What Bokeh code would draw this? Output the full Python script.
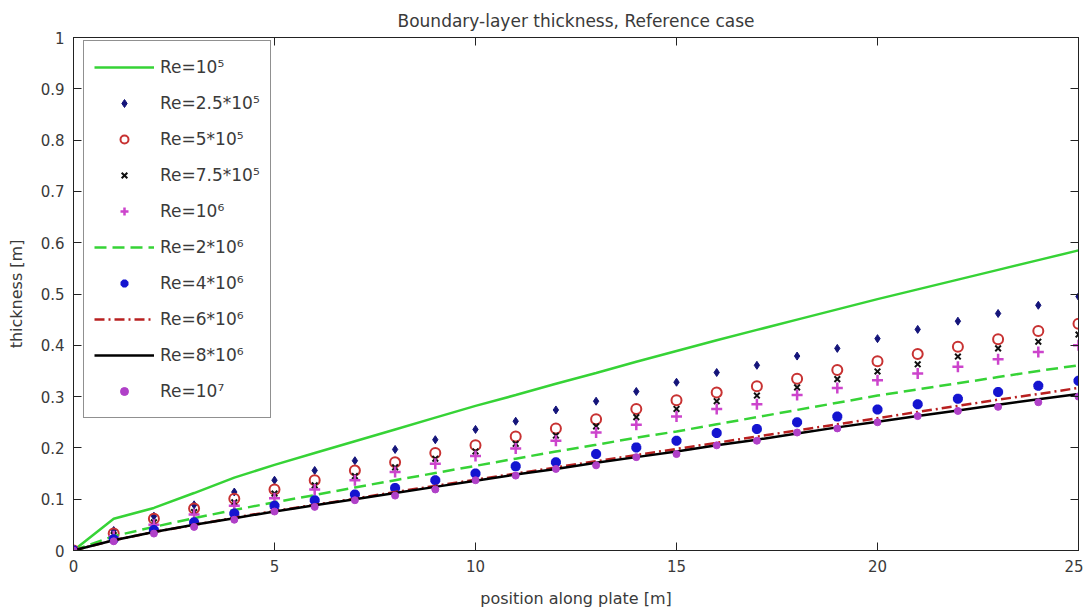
from bokeh.plotting import figure
from bokeh.models import (LinearAxis, FixedTicker, CustomJSTickFormatter, Legend,
                          LegendItem, Range1d)
from bokeh.embed import file_html
from bokeh.resources import INLINE

# ---------------- data ----------------
position = list(range(26))

re_1e5 = [0, 0.062, 0.083, 0.112, 0.142, 0.167, 0.190, 0.213, 0.236, 0.259, 0.282,
          0.303, 0.325, 0.346, 0.368, 0.389, 0.410, 0.430, 0.450, 0.470, 0.490,
          0.509, 0.528, 0.547, 0.566, 0.585]
re_2_5e5 = [0, 0.039, 0.067, 0.089, 0.114, 0.137, 0.156, 0.175, 0.197, 0.216, 0.236,
            0.252, 0.274, 0.291, 0.310, 0.328, 0.347, 0.361, 0.379, 0.394, 0.413,
            0.431, 0.447, 0.462, 0.478, 0.495]
re_5e5 = [0, 0.033, 0.062, 0.082, 0.101, 0.119, 0.137, 0.156, 0.172, 0.190, 0.205,
          0.222, 0.238, 0.256, 0.276, 0.293, 0.308, 0.320, 0.335, 0.352, 0.369,
          0.383, 0.397, 0.412, 0.428, 0.442]
re_7_5e5 = [0, 0.030, 0.055, 0.075, 0.094, 0.111, 0.127, 0.145, 0.162, 0.179, 0.193,
            0.208, 0.224, 0.242, 0.260, 0.276, 0.291, 0.302, 0.318, 0.334, 0.349,
            0.363, 0.378, 0.394, 0.407, 0.421]
re_1e6 = [0, 0.028, 0.050, 0.070, 0.087, 0.102, 0.119, 0.137, 0.153, 0.169, 0.184,
          0.199, 0.214, 0.230, 0.245, 0.261, 0.276, 0.285, 0.303, 0.317, 0.332,
          0.345, 0.358, 0.373, 0.387, 0.400]
re_2e6 = [0, 0.028, 0.046, 0.063, 0.079, 0.094, 0.108, 0.123, 0.137, 0.151, 0.165,
          0.179, 0.193, 0.206, 0.220, 0.232, 0.246, 0.260, 0.274, 0.288, 0.302,
          0.314, 0.326, 0.338, 0.350, 0.361]
re_4e6 = [0, 0.022, 0.040, 0.055, 0.072, 0.087, 0.098, 0.109, 0.122, 0.137, 0.150,
          0.164, 0.172, 0.188, 0.201, 0.214, 0.229, 0.237, 0.250, 0.261, 0.275,
          0.285, 0.296, 0.309, 0.321, 0.331]
re_6e6 = [0, 0.020, 0.036, 0.050, 0.064, 0.077, 0.089, 0.101, 0.114, 0.126, 0.138,
          0.150, 0.162, 0.174, 0.186, 0.198, 0.210, 0.222, 0.234, 0.246, 0.258,
          0.270, 0.282, 0.294, 0.305, 0.317]
re_8e6 = [0, 0.020, 0.036, 0.050, 0.063, 0.076, 0.088, 0.100, 0.112, 0.124, 0.136,
          0.148, 0.159, 0.171, 0.182, 0.193, 0.205, 0.216, 0.228, 0.240, 0.251,
          0.262, 0.273, 0.284, 0.295, 0.305]
re_1e7 = [0, 0.018, 0.033, 0.046, 0.060, 0.076, 0.085, 0.098, 0.107, 0.119, 0.137,
          0.146, 0.159, 0.166, 0.182, 0.188, 0.205, 0.214, 0.230, 0.238, 0.250,
          0.262, 0.272, 0.280, 0.289, 0.300]

labels = ["Re=10⁵", "Re=2.5*10⁵", "Re=5*10⁵", "Re=7.5*10⁵", "Re=10⁶",
          "Re=2*10⁶", "Re=4*10⁶", "Re=6*10⁶", "Re=8*10⁶", "Re=10⁷"]
x_ticks = [0, 5, 10, 15, 20, 25]
y_ticks = [0, 0.1, 0.2, 0.3, 0.4, 0.5, 0.6, 0.7, 0.8, 0.9, 1]

FONT = "DejaVu Sans"
TXT = "#3a3a3a"

p = figure(width=1083, height=610, output_backend="svg", toolbar_location=None,
           x_range=Range1d(0, 25), y_range=Range1d(0, 1),
           min_border_left=73, min_border_right=5, min_border_top=37,
           min_border_bottom=58, background_fill_color="white",
           border_fill_color="white")
p.grid.visible = False
p.outline_line_color = "#222222"
p.outline_line_width = 1

p.title.text = "Boundary-layer thickness, Reference case"
p.title.align = "center"
p.title.text_font = FONT
p.title.text_font_size = "17px"
p.title.text_font_style = "normal"
p.title.text_color = TXT
p.title.standoff = 13

tick_fmt = CustomJSTickFormatter(code="return (Math.round(tick*10)/10).toString()")
for ax, ticks in ((p.xaxis[0], x_ticks), (p.yaxis[0], y_ticks)):
    ax.ticker = FixedTicker(ticks=ticks)
    ax.formatter = tick_fmt
    ax.major_tick_in = 8
    ax.major_tick_out = 0
    ax.minor_tick_line_color = None
    ax.axis_line_color = "#222222"
    ax.major_tick_line_color = "#222222"
    ax.major_label_text_font = FONT
    ax.major_label_text_font_size = "15px"
    ax.major_label_text_color = TXT
    ax.axis_label_text_font = FONT
    ax.axis_label_text_font_size = "16px"
    ax.axis_label_text_font_style = "normal"
    ax.axis_label_text_color = TXT
p.xaxis.axis_label = "position along plate [m]"
p.yaxis.axis_label = "thickness [m]"
p.xaxis.major_label_standoff = 9
p.yaxis.major_label_standoff = 9
p.xaxis.axis_label_standoff = 14
p.yaxis.axis_label_standoff = 12

empty_fmt = CustomJSTickFormatter(code="return ''")
for place, ticks in (("above", x_ticks), ("right", y_ticks)):
    ax = LinearAxis(ticker=FixedTicker(ticks=ticks), formatter=empty_fmt,
                    major_tick_in=8, major_tick_out=0, minor_tick_line_color=None,
                    major_label_standoff=0, major_label_text_font_size="1px",
                    axis_line_color="#222222", major_tick_line_color="#222222")
    p.add_layout(ax, place)

GREEN = "#36d336"
r1 = p.line(position, re_1e5, line_color=GREEN, line_width=2.5)
r2 = p.scatter(position, re_2_5e5, marker="diamond", size=8, fill_color="#14147a",
               line_color="#14147a")
r3 = p.scatter(position, re_5e5, marker="circle", size=10, fill_color=None,
               line_color="#c83232", line_width=2)
r4 = p.scatter(position, re_7_5e5, marker="x", size=8, line_color="#111111",
               line_width=2)
r5 = p.scatter(position, re_1e6, marker="cross", size=11, line_color="#cc44cc",
               line_width=2.5)
r6 = p.line(position, re_2e6, line_color=GREEN, line_width=2.5, line_dash="12 6")
r7 = p.scatter(position, re_4e6, marker="asterisk", size=10, line_color="#1414d0",
               line_width=3.5)
r8 = p.line(position, re_6e6, line_color="#b82020", line_width=2.5,
            line_dash="10 4 2 4")
r9 = p.line(position, re_8e6, line_color="#000000", line_width=2.5)
r10 = p.scatter(position, re_1e7, marker="circle", size=7, fill_color="#b040c8",
                line_color="#b040c8")

renderers = [r1, r2, r3, r4, r5, r6, r7, r8, r9, r10]
items = [LegendItem(label=lab, renderers=[r]) for lab, r in zip(labels, renderers)]
legend = Legend(items=items, location=(10, 132), padding=10, spacing=4,
                glyph_width=60, glyph_height=20, label_height=32, label_standoff=6,
                label_text_font=FONT, label_text_font_size="17px",
                label_text_color=TXT, border_line_color="#222222",
                border_line_width=1, background_fill_color="white",
                background_fill_alpha=1.0, margin=0)
p.add_layout(legend)

open("out.html", "w").write(file_html(p, INLINE))
